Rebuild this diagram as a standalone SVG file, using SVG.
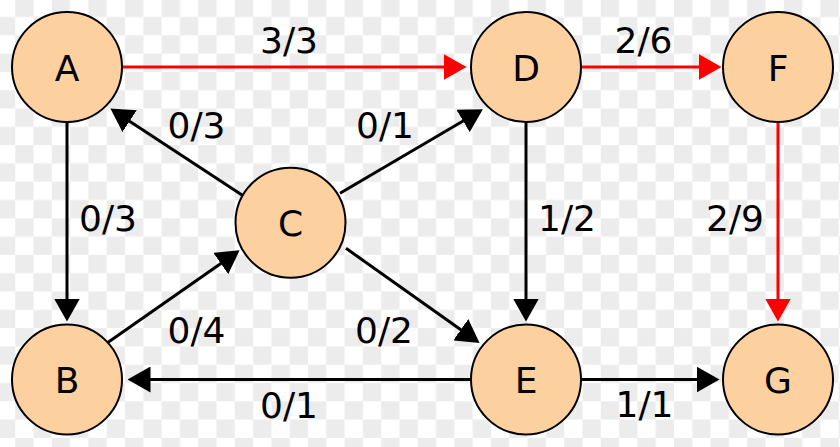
<svg xmlns="http://www.w3.org/2000/svg" width="840" height="447" viewBox="0 0 840 447">
<defs>
<pattern id="chk" patternUnits="userSpaceOnUse" x="15.2" y="-1.3" width="36.6" height="36.6">
<rect x="0" y="0" width="18.3" height="18.3" fill="#ececec"/>
<rect x="18.3" y="18.3" width="18.3" height="18.3" fill="#ececec"/>
</pattern>
<marker id="ak" viewBox="0 0 23 26" refX="0.5" refY="13" markerWidth="23" markerHeight="26" markerUnits="userSpaceOnUse" orient="auto">
<path d="M0,0 L23,13 L0,26 z" fill="#000"/>
</marker>
<marker id="ar" viewBox="0 0 23 26" refX="0.5" refY="13" markerWidth="23" markerHeight="26" markerUnits="userSpaceOnUse" orient="auto">
<path d="M0,0 L23,13 L0,26 z" fill="#ff0000"/>
</marker>
</defs>
<style>
.node circle{fill:#fdd09f;stroke:#000;stroke-width:2}
.node text,.lbl{font-family:"DejaVu Sans","Liberation Sans",sans-serif;font-size:36px;text-anchor:middle;fill:#000}
.e{stroke:#000;stroke-width:3;fill:none;marker-end:url(#ak)}
.r{stroke:#ff0000;stroke-width:3;fill:none;marker-end:url(#ar)}
</style>
<rect width="840" height="447" fill="#fff"/>
<rect width="840" height="447" fill="url(#chk)"/>
<g id="connectors">
<line class="r" x1="122" y1="67" x2="444" y2="67"/>
<line class="r" x1="581" y1="67" x2="699" y2="67"/>
<line class="r" x1="778" y1="122" x2="778" y2="299"/>
<line class="e" x1="67" y1="122" x2="67" y2="299"/>
<line class="e" x1="526" y1="122" x2="526" y2="299"/>
<line class="e" x1="581.5" y1="379.5" x2="697" y2="379.5"/>
<line class="e" x1="470.5" y1="379.5" x2="150" y2="379.5"/>
<line class="e" x1="242" y1="195" x2="129.2" y2="120.9"/>
<line class="e" x1="340" y1="193.3" x2="463.5" y2="120.7"/>
<line class="e" x1="106.7" y1="343.3" x2="221.2" y2="263.2"/>
<line class="e" x1="346" y1="248.3" x2="461.2" y2="330"/>
</g>
<g id="labels">
<text class="lbl" x="289" y="53">3/3</text>
<text class="lbl" x="643.5" y="53">2/6</text>
<text class="lbl" x="196.5" y="138">0/3</text>
<text class="lbl" x="385" y="138">0/1</text>
<text class="lbl" x="108" y="231">0/3</text>
<text class="lbl" x="567" y="231">1/2</text>
<text class="lbl" x="735" y="231">2/9</text>
<text class="lbl" x="196.5" y="343">0/4</text>
<text class="lbl" x="384" y="343">0/2</text>
<text class="lbl" x="289" y="418">0/1</text>
<text class="lbl" x="644.5" y="417">1/1</text>
</g>
<g id="A" class="node"><circle cx="67" cy="67" r="55"/><text x="67" y="80.5">A</text></g>
<g id="D" class="node"><circle cx="526" cy="67" r="55"/><text x="526" y="80.5">D</text></g>
<g id="F" class="node"><circle cx="778" cy="67" r="55"/><text x="778" y="80.5">F</text></g>
<g id="C" class="node"><circle cx="290.5" cy="222.7" r="55"/><text x="290.5" y="236">C</text></g>
<g id="B" class="node"><circle cx="67" cy="379.5" r="55"/><text x="67" y="393">B</text></g>
<g id="E" class="node"><circle cx="526" cy="379.5" r="55"/><text x="526" y="393">E</text></g>
<g id="G" class="node"><circle cx="778" cy="379.5" r="55"/><text x="778" y="393">G</text></g>
</svg>
